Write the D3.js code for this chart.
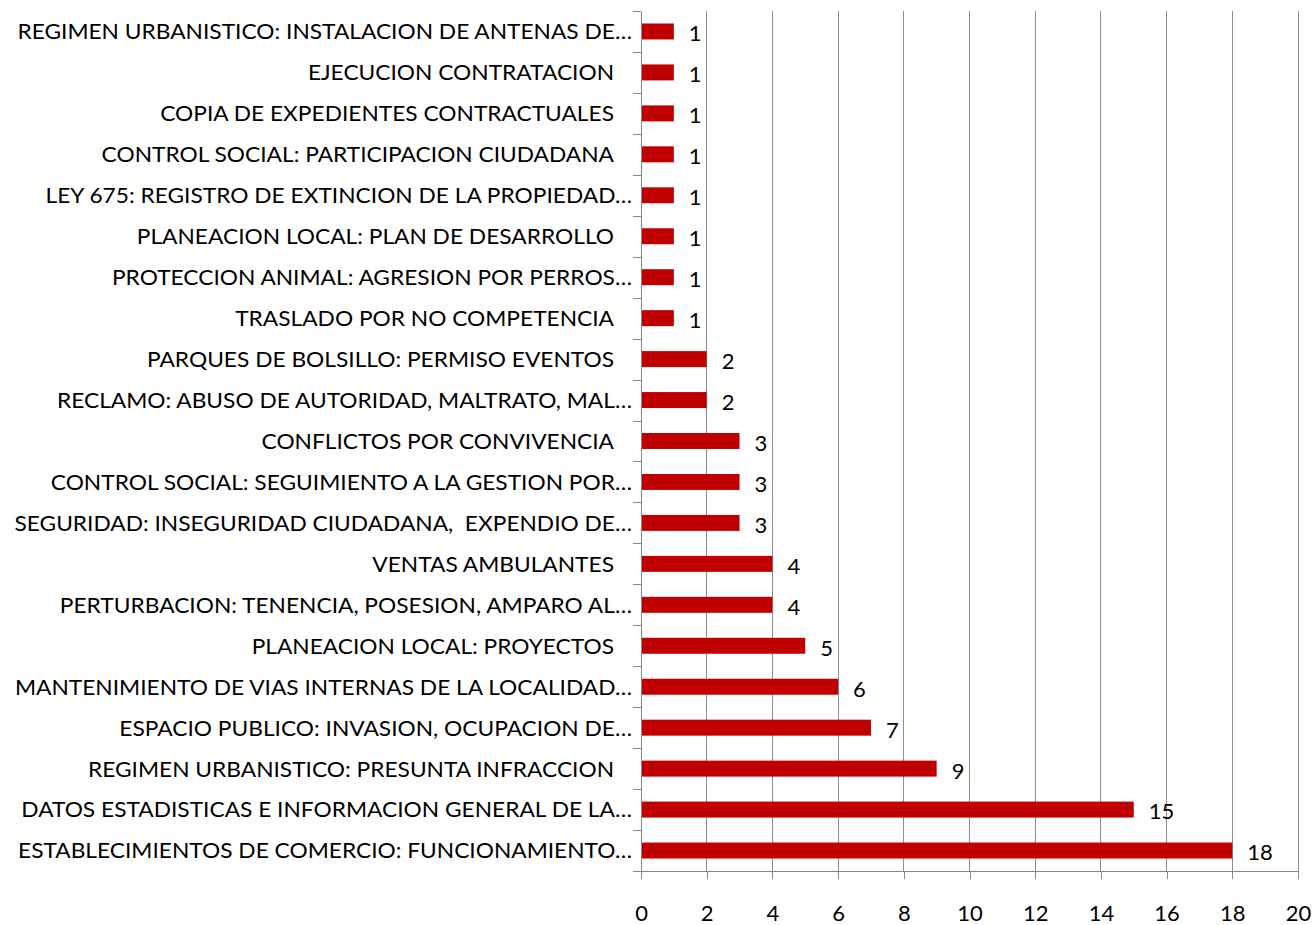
<!DOCTYPE html>
<html>
<head>
<meta charset="utf-8">
<script src="https://cdn.jsdelivr.net/npm/d3@7"></script>
<style>
  html, body { margin: 0; padding: 0; background: #ffffff; }
  svg { display: block; }
  text { font-family: Lato, "Open Sans", "Noto Sans", sans-serif; fill: #000; white-space: pre; }
</style>
</head>
<body>
<svg id="chart" width="1315" height="925"></svg>
<script>
const categories = [
  "REGIMEN URBANISTICO: INSTALACION DE ANTENAS DE…",
  "EJECUCION CONTRATACION",
  "COPIA DE EXPEDIENTES CONTRACTUALES",
  "CONTROL SOCIAL: PARTICIPACION CIUDADANA",
  "LEY 675: REGISTRO DE EXTINCION DE LA PROPIEDAD…",
  "PLANEACION LOCAL: PLAN DE DESARROLLO",
  "PROTECCION ANIMAL: AGRESION POR PERROS…",
  "TRASLADO POR NO COMPETENCIA",
  "PARQUES DE BOLSILLO: PERMISO EVENTOS",
  "RECLAMO: ABUSO DE AUTORIDAD, MALTRATO, MAL…",
  "CONFLICTOS POR CONVIVENCIA",
  "CONTROL SOCIAL: SEGUIMIENTO A LA GESTION POR…",
  "SEGURIDAD: INSEGURIDAD CIUDADANA,  EXPENDIO DE…",
  "VENTAS AMBULANTES",
  "PERTURBACION: TENENCIA, POSESION, AMPARO AL…",
  "PLANEACION LOCAL: PROYECTOS",
  "MANTENIMIENTO DE VIAS INTERNAS DE LA LOCALIDAD…",
  "ESPACIO PUBLICO: INVASION, OCUPACION DE…",
  "REGIMEN URBANISTICO: PRESUNTA INFRACCION",
  "DATOS ESTADISTICAS E INFORMACION GENERAL DE LA…",
  "ESTABLECIMIENTOS DE COMERCIO: FUNCIONAMIENTO…"
];
const values = [1, 1, 1, 1, 1, 1, 1, 1, 2, 2, 3, 3, 3, 4, 4, 5, 6, 7, 9, 15, 18];
const xTicks = [0, 2, 4, 6, 8, 10, 12, 14, 16, 18, 20];

(function () {
const data = categories.map((c, i) => ({ cat: c, val: values[i] }));

const svg = d3.select("#chart");
const pLeft = 641, pRight = 1298, pTop = 11, pBottom = 871;

const x = d3.scaleLinear().domain([0, 20]).range([pLeft, pRight]);
const y = d3.scaleBand().domain(categories).range([pTop, pBottom])
  .paddingInner(0.61).paddingOuter(0.305);
const yIdx = d3.scaleLinear().domain([0, categories.length]).range([pTop, pBottom]);

const axisColor = "#868686";
const gridColor = "#8e8e8e";

// gridlines
svg.append("g").selectAll("line")
  .data(xTicks.filter(t => t > 0))
  .join("line")
  .attr("x1", d => x(d)).attr("x2", d => x(d))
  .attr("y1", pTop).attr("y2", pBottom)
  .attr("stroke", gridColor).attr("stroke-width", 1)
  .attr("shape-rendering", "crispEdges");

// bars
svg.append("g").selectAll("rect")
  .data(data)
  .join("rect")
  .attr("x", x(0))
  .attr("y", d => y(d.cat))
  .attr("width", d => x(d.val) - x(0))
  .attr("height", y.bandwidth())
  .attr("fill", "#C00000");

// y axis (band boundary ticks, no labels)
const yAxis = svg.append("g").attr("transform", `translate(${pLeft},0)`)
  .call(d3.axisLeft(yIdx).tickValues(d3.range(0, categories.length + 1)).tickSize(8).tickSizeOuter(0).tickFormat(""));
yAxis.selectAll("path, line").attr("stroke", axisColor).attr("shape-rendering", "crispEdges");

// x axis
const xAxis = svg.append("g").attr("transform", `translate(0,${pBottom})`)
  .call(d3.axisBottom(x).tickValues(xTicks).tickSize(8).tickSizeOuter(0).tickFormat(d3.format("d")));
xAxis.selectAll("path, line").attr("stroke", axisColor).attr("shape-rendering", "crispEdges");
xAxis.selectAll("text")
  .attr("y", 42).attr("dy", "0.36em")
  .attr("font-size", 22).attr("fill", "#000")
  .style("font-family", "Lato, 'Open Sans', sans-serif");

// category labels
const labels = svg.append("g").selectAll("text")
  .data(data)
  .join("text")
  .attr("x", d => d.cat.endsWith("…") ? 632 : 614)
  .attr("y", d => y(d.cat) + y.bandwidth() / 2)
  .attr("dy", "0.36em")
  .attr("text-anchor", "end")
  .attr("font-size", 22)
  .text(d => d.cat);

// horizontally condense labels to match the narrow original face
const refNode = labels.filter(d => d.cat.startsWith("ESTABLECIMIENTOS")).node();
const k = (632 - 18) / refNode.getComputedTextLength();
labels.each(function () {
  const w = this.getComputedTextLength();
  d3.select(this).attr("textLength", w * k).attr("lengthAdjust", "spacingAndGlyphs");
});

// value labels
svg.append("g").selectAll("text")
  .data(data)
  .join("text")
  .attr("x", d => x(d.val) + 15)
  .attr("y", d => y(d.cat) + y.bandwidth() / 2 + 2)
  .attr("dy", "0.36em")
  .attr("font-size", 22)
  .text(d => d.val);
})();
</script>
</body>
</html>
